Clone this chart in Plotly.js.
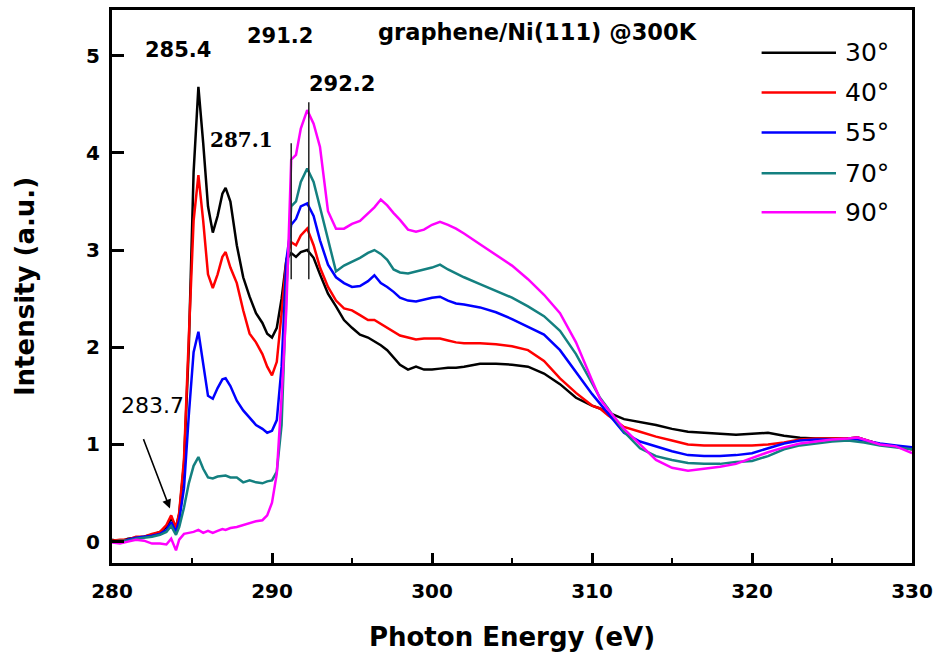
<!DOCTYPE html>
<html>
<head>
<meta charset="utf-8">
<script src="https://cdn.plot.ly/plotly-3.0.1.min.js"></script>
<style>html,body{margin:0;padding:0;background:#fff;}#chart{width:936px;height:652px;}</style>
</head>
<body>
<div id="chart"></div>
<script>
// Photon energy grid (eV)
const energy = [280, 280.5, 281, 281.5, 282, 282.5, 283, 283.4, 283.7, 284.0,
  284.2, 284.5, 284.8, 285.1, 285.4, 285.7, 286.0, 286.3, 286.6, 286.9,
  287.1, 287.4, 287.8, 288.2, 288.6, 289.0, 289.4, 289.7, 290.0, 290.3,
  290.6, 290.9, 291.2, 291.5, 291.8, 292.2, 292.6, 293.0, 293.5, 294.0,
  294.5, 295.0, 295.5, 296.0, 296.4, 296.8, 297.2, 297.6, 298.0, 298.5,
  299.0, 299.5, 300.0, 300.5, 301.0, 301.5, 302.0, 303.0, 304.0, 305.0,
  306, 307, 308, 309, 310, 310.5, 311, 312, 313, 314,
  315, 316, 317, 318, 319, 320, 321, 322, 323, 324,
  325, 326, 326.6, 327, 328, 329, 330];

const series30 = [0.02, 0.00, 0.03, 0.04, 0.05, 0.07, 0.10, 0.15, 0.24, 0.15,
  0.28, 0.80, 2.00, 3.80, 4.68, 4.10, 3.45, 3.18, 3.35, 3.58,
  3.64, 3.50, 3.05, 2.72, 2.52, 2.35, 2.25, 2.14, 2.10, 2.20,
  2.50, 2.90, 2.97, 2.93, 2.98, 3.00, 2.92, 2.75, 2.55, 2.42,
  2.28, 2.20, 2.13, 2.10, 2.06, 2.02, 1.97, 1.90, 1.82, 1.77,
  1.80, 1.77, 1.77, 1.78, 1.79, 1.79, 1.80, 1.83, 1.83, 1.82,
  1.80, 1.73, 1.62, 1.48, 1.40, 1.37, 1.33, 1.26, 1.23, 1.20,
  1.16, 1.13, 1.12, 1.11, 1.10, 1.11, 1.12, 1.09, 1.07, 1.06,
  1.06, 1.06, 1.07, 1.05, 1.00, 0.98, 0.95];

const series40 = [0.01, 0.02, 0.02, 0.05, 0.05, 0.08, 0.10, 0.17, 0.27, 0.14,
  0.30, 0.85, 2.10, 3.30, 3.77, 3.30, 2.75, 2.61, 2.75, 2.93,
  2.98, 2.82, 2.66, 2.38, 2.14, 2.05, 1.93, 1.80, 1.71, 1.85,
  2.35, 2.90, 3.08, 3.05, 3.15, 3.22, 3.05, 2.82, 2.62, 2.48,
  2.40, 2.38, 2.33, 2.28, 2.28, 2.24, 2.20, 2.16, 2.12, 2.10,
  2.08, 2.09, 2.09, 2.09, 2.07, 2.05, 2.04, 2.04, 2.03, 2.01,
  1.97, 1.86, 1.68, 1.53, 1.40, 1.37, 1.30, 1.18, 1.13, 1.08,
  1.04, 1.00, 0.99, 0.99, 0.99, 0.99, 1.00, 1.02, 1.05, 1.06,
  1.06, 1.06, 1.07, 1.05, 1.00, 0.98, 0.95];

const series55 = [0.00, -0.01, 0.02, 0.04, 0.05, 0.06, 0.08, 0.12, 0.20, 0.10,
  0.22, 0.55, 1.30, 1.95, 2.16, 1.85, 1.50, 1.47, 1.58, 1.67,
  1.68, 1.60, 1.45, 1.35, 1.28, 1.20, 1.16, 1.12, 1.14, 1.25,
  1.80, 2.90, 3.26, 3.32, 3.45, 3.48, 3.35, 3.10, 2.85, 2.72,
  2.66, 2.62, 2.63, 2.68, 2.74, 2.66, 2.62, 2.57, 2.51, 2.48,
  2.47, 2.49, 2.51, 2.52, 2.48, 2.45, 2.44, 2.41, 2.36, 2.29,
  2.21, 2.13, 1.97, 1.74, 1.52, 1.42, 1.32, 1.12, 1.03, 0.98,
  0.93, 0.89, 0.88, 0.88, 0.89, 0.91, 0.96, 1.01, 1.04, 1.05,
  1.05, 1.05, 1.05, 1.04, 1.01, 0.99, 0.97];

const series70 = [0.00, 0.01, 0.01, 0.03, 0.04, 0.05, 0.07, 0.10, 0.16, 0.07,
  0.15, 0.35, 0.60, 0.78, 0.87, 0.75, 0.66, 0.65, 0.67, 0.68,
  0.68, 0.66, 0.66, 0.61, 0.63, 0.61, 0.60, 0.62, 0.63, 0.72,
  1.20, 2.60, 3.45, 3.50, 3.70, 3.84, 3.70, 3.44, 3.10, 2.78,
  2.84, 2.88, 2.92, 2.97, 3.00, 2.96, 2.90, 2.80, 2.77, 2.76,
  2.78, 2.80, 2.82, 2.85, 2.80, 2.76, 2.72, 2.65, 2.58, 2.51,
  2.42, 2.32, 2.17, 1.93, 1.63, 1.48, 1.37, 1.13, 0.96, 0.88,
  0.84, 0.81, 0.80, 0.80, 0.82, 0.83, 0.88, 0.95, 0.99, 1.01,
  1.03, 1.04, 1.03, 1.02, 0.99, 0.97, 0.95];

const series90 = [-0.01, -0.02, 0.00, 0.02, 0.01, -0.02, -0.02, -0.03, 0.03, -0.09,
  0.02, 0.08, 0.09, 0.10, 0.12, 0.09, 0.11, 0.09, 0.11, 0.13,
  0.12, 0.14, 0.15, 0.17, 0.19, 0.21, 0.22, 0.27, 0.40, 0.70,
  1.50, 2.40, 3.93, 3.98, 4.25, 4.44, 4.30, 4.06, 3.40, 3.22,
  3.22, 3.27, 3.30, 3.38, 3.44, 3.52, 3.46, 3.38, 3.31, 3.21,
  3.19, 3.21, 3.26, 3.29, 3.26, 3.22, 3.17, 3.06, 2.95, 2.84,
  2.70, 2.54, 2.35, 2.05, 1.66, 1.47, 1.36, 1.16, 1.00, 0.84,
  0.76, 0.73, 0.75, 0.77, 0.80, 0.86, 0.92, 0.97, 1.01, 1.03,
  1.05, 1.06, 1.07, 1.05, 1.00, 0.98, 0.91];

const seriesNames = ['30°', '40°', '55°', '70°', '90°'];
const seriesColors = ['#000000', '#ff0000', '#0000ff', '#148080', '#ff00ff'];
const seriesData = [series30, series40, series55, series70, series90];

// peak labels: [text, energy, intensity]
const peakLabels = [['285.4', 284.1, 5.06], ['291.2', 290.5, 5.2], ['292.2', 294.4, 4.71]];
const peakLines = [[291.2, 2.70, 4.10], [292.3, 2.70, 4.52]];

const traces = seriesData.map((ys, i) => ({
  x: energy, y: ys, type: 'scatter', mode: 'lines', name: seriesNames[i],
  line: {color: seriesColors[i], width: 2.5}, showlegend: false
}));

const bold = {family: 'DejaVu Sans', weight: 700, color: '#000'};
const annotations = [];
const shapes = [];

peakLabels.forEach(p => annotations.push({
  x: p[1], y: p[2], xref: 'x', yref: 'y', text: p[0], showarrow: false,
  xanchor: 'center', yanchor: 'middle', font: Object.assign({size: 21}, bold)
}));
annotations.push({x: 288.1, y: 4.13, xref: 'x', yref: 'y', text: '287.1', showarrow: false,
  xanchor: 'center', yanchor: 'middle', font: {family: 'DejaVu Serif', weight: 700, size: 20, color: '#000'}});
annotations.push({x: 306.6, y: 5.24, xref: 'x', yref: 'y', text: 'graphene/Ni(111) @300K', showarrow: false,
  xanchor: 'center', yanchor: 'middle', font: Object.assign({size: 22.5}, bold)});
annotations.push({x: 282.5, y: 1.40, xref: 'x', yref: 'y', text: '283.7', showarrow: false,
  xanchor: 'center', yanchor: 'middle', font: {family: 'DejaVu Sans', size: 22, color: '#000'}});
annotations.push({x: 283.62, y: 0.34, xref: 'x', yref: 'y', ax: 281.93, ay: 1.07, axref: 'x', ayref: 'y',
  text: '', showarrow: true, arrowhead: 2, arrowsize: 1.2, arrowwidth: 1.5, arrowcolor: '#000'});

peakLines.forEach(l => shapes.push({type: 'line', xref: 'x', yref: 'y', x0: l[0], x1: l[0], y0: l[1], y1: l[2],
  line: {color: '#222', width: 1.5}}));

// manual legend (long line samples)
const legY = [5.03, 4.62, 4.21, 3.79, 3.39];
seriesNames.forEach((n, i) => {
  shapes.push({type: 'line', xref: 'x', yref: 'y', x0: 320.6, x1: 325.25, y0: legY[i], y1: legY[i],
    line: {color: seriesColors[i], width: 2.5}});
  annotations.push({x: 325.7, y: legY[i], xref: 'x', yref: 'y', text: n, showarrow: false,
    xanchor: 'left', yanchor: 'middle', font: {family: 'DejaVu Sans', size: 25, color: '#000'}});
});

const layout = {
  width: 936, height: 652,
  margin: {l: 112, r: 24, t: 10, b: 89},
  paper_bgcolor: '#fff', plot_bgcolor: '#fff',
  showlegend: false,
  xaxis: {
    range: [280, 330], tick0: 280, dtick: 10, ticks: 'inside', ticklen: 10, tickwidth: 3, tickcolor: '#000',
    minor: {dtick: 5, ticks: 'inside', ticklen: 5, tickwidth: 2.5, tickcolor: '#000'},
    showline: true, linewidth: 3, linecolor: '#000', mirror: true,
    showgrid: false, zeroline: false, ticklabelstandoff: 8,
    tickfont: Object.assign({size: 20}, bold),
    title: {text: 'Photon Energy (eV)', font: Object.assign({size: 26}, bold), standoff: 26}
  },
  yaxis: {
    range: [-0.22, 5.47], tick0: 0, dtick: 1, ticks: 'inside', ticklen: 12, tickwidth: 3, tickcolor: '#000',
    showline: true, linewidth: 3, linecolor: '#000', mirror: true,
    showgrid: false, zeroline: false, ticklabelstandoff: 5,
    tickfont: Object.assign({size: 20}, bold),
    title: {text: 'Intensity (a.u.)', font: Object.assign({size: 26}, bold), standoff: 44}
  },
  annotations: annotations,
  shapes: shapes
};

Plotly.newPlot('chart', traces, layout, {displayModeBar: false, staticPlot: true});
</script>
</body>
</html>
